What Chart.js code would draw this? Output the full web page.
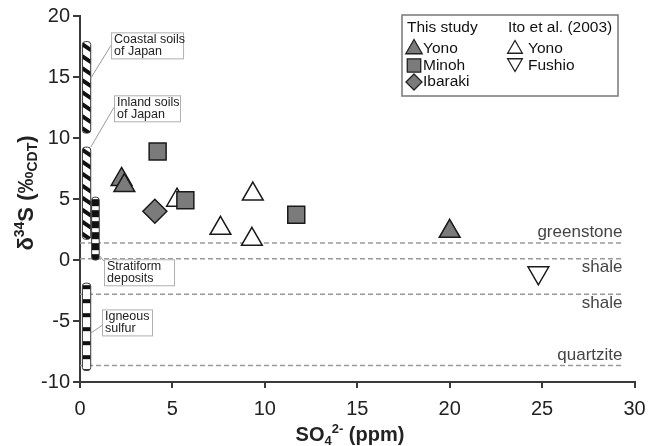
<!DOCTYPE html>
<html>
<head>
<meta charset="utf-8">
<script src="https://cdn.jsdelivr.net/npm/chart.js@4.4.1/dist/chart.umd.min.js"></script>
<style>
  html, body { margin: 0; padding: 0; background: #fff; }
  #wrap { width: 648px; height: 446px; }
</style>
</head>
<body>
<div id="wrap"><canvas id="chart" width="648" height="446"></canvas></div>
<script>
// SO4 (ppm) vs d34S (permil CDT)
const yonoX = [2.25, 2.4, 20.0];
const yonoY = [6.6, 6.1, 2.35];
const minohX = [4.2, 5.7, 11.7];
const minohY = [8.9, 4.9, 3.7];
const ibarakiX = [4.05];
const ibarakiY = [4.0];
const itoYonoX = [5.25, 7.6, 9.3, 9.35];
const itoYonoY = [4.9, 2.6, 1.7, 5.4];
const fushioX = [24.8];
const fushioY = [-1.05];

const xTicks = [0, 5, 10, 15, 20, 25, 30];
const yTicks = [-10, -5, 0, 5, 10, 15, 20];

// bedrock values (dashed lines)
const rockNames = ["greenstone", "shale", "shale", "quartzite"];
const rockValues = [1.4, 0.1, -2.8, -8.65];

// literature ranges of d34S
const rangeNames = [["Coastal soils", "of Japan"], ["Inland soils", "of Japan"], ["Stratiform", "deposits"], ["Igneous", "sulfur"]];
const rangeLow = [10.4, 1.7, 0.0, -9.05];
const rangeHigh = [17.9, 9.25, 5.15, -1.9];

const FONT = "'Liberation Sans', Arial, Helvetica, sans-serif";

// where the range bars and their callouts sit
const rangeStyle = [
  { x0: 0.13, x1: 0.58, fill: "diag", boxX: 1.68, boxY: 18.66, boxW: 72, leadY: 13, barY: 14.9 },
  { x0: 0.13, x1: 0.58, fill: "diag", boxX: 1.84, boxY: 13.5, boxW: 66, leadY: 12, barY: 9.25 },
  { x0: 0.63, x1: 1.04, fill: "band", boxX: 1.3, boxY: 0.06, boxW: 70, leadY: 2, barY: 0.4 },
  { x0: 0.13, x1: 0.58, fill: "thin", boxX: 1.19, boxY: -4.05, boxW: 50, leadY: 16, barY: -6.0 }
];
const rockStyle = [
  { pos: "above" }, { pos: "below" }, { pos: "below" }, { pos: "above" }
];

function pts(xs, ys) {
  return xs.map((x, i) => ({ x: x, y: ys[i] }));
}

function rrect(ctx, x, y, w, h, r) {
  ctx.beginPath();
  ctx.moveTo(x + r, y);
  ctx.arcTo(x + w, y, x + w, y + h, r);
  ctx.arcTo(x + w, y + h, x, y + h, r);
  ctx.arcTo(x, y + h, x, y, r);
  ctx.arcTo(x, y, x + w, y, r);
  ctx.closePath();
}

const backdrop = {
  id: "backdrop",
  beforeDatasetsDraw(chart) {
    const ctx = chart.ctx;
    const sx = chart.scales.x, sy = chart.scales.y;
    ctx.save();
    // dashed reference lines
    ctx.strokeStyle = "#9a9a9a";
    ctx.lineWidth = 1.5;
    ctx.setLineDash([5, 3]);
    rockValues.forEach(v => {
      const y = sy.getPixelForValue(v);
      ctx.beginPath();
      ctx.moveTo(sx.getPixelForValue(0), y);
      ctx.lineTo(sx.getPixelForValue(29.4), y);
      ctx.stroke();
    });
    ctx.setLineDash([]);
    ctx.fillStyle = "#444";
    ctx.font = "17px " + FONT;
    ctx.textAlign = "right";
    ctx.textBaseline = "alphabetic";
    rockNames.forEach((name, i) => {
      const y = sy.getPixelForValue(rockValues[i]);
      const ty = rockStyle[i].pos === "above" ? y - 6 : y + 13.5;
      ctx.fillText(name, sx.getPixelForValue(29.35), ty);
    });

    // range bars
    rangeLow.forEach((lo, i) => {
      const st = rangeStyle[i];
      const x0 = sx.getPixelForValue(st.x0), x1 = sx.getPixelForValue(st.x1);
      const yt = sy.getPixelForValue(rangeHigh[i]), yb = sy.getPixelForValue(lo);
      const w = x1 - x0, h = yb - yt;
      ctx.save();
      rrect(ctx, x0, yt, w, h, 3);
      ctx.fillStyle = "#fff";
      ctx.fill();
      ctx.clip();
      ctx.fillStyle = "#111";
      ctx.strokeStyle = "#111";
      if (st.fill === "diag") {
        ctx.lineWidth = 4;
        for (let k = -10; k < h + 10; k += 12) {
          ctx.beginPath();
          ctx.moveTo(x0 - 1, yt + k);
          ctx.lineTo(x1 + 1, yt + k + 7);
          ctx.stroke();
        }
      } else if (st.fill === "band") {
        for (let k = 2; k < h; k += 11) ctx.fillRect(x0, yt + k, w, 7);
      } else {
        for (let k = 2; k < h; k += 14) ctx.fillRect(x0, yt + k, w, 4);
      }
      ctx.restore();
      rrect(ctx, x0, yt, w, h, 3);
      ctx.strokeStyle = "#333";
      ctx.lineWidth = 1;
      ctx.stroke();
    });
    ctx.restore();
  },
  afterDatasetsDraw(chart) {
    const ctx = chart.ctx;
    const sx = chart.scales.x, sy = chart.scales.y;
    ctx.save();
    ctx.font = "12.5px " + FONT;
    ctx.textAlign = "left";
    ctx.textBaseline = "middle";
    rangeNames.forEach((lines, i) => {
      const st = rangeStyle[i];
      const bx = sx.getPixelForValue(st.boxX), by = sy.getPixelForValue(st.boxY);
      const bh = 13 * lines.length;
      // leader
      ctx.strokeStyle = "#9a9a9a";
      ctx.lineWidth = 1;
      ctx.beginPath();
      ctx.moveTo(bx, by + st.leadY);
      ctx.lineTo(sx.getPixelForValue(st.x1), sy.getPixelForValue(st.barY));
      ctx.stroke();
      ctx.fillStyle = "#fff";
      ctx.fillRect(bx, by, st.boxW, bh);
      ctx.strokeStyle = "#b0b0b0";
      ctx.strokeRect(bx + 0.5, by + 0.5, st.boxW, bh);
      ctx.fillStyle = "#222";
      lines.forEach((t, j) => ctx.fillText(t, bx + 3, by + 7 + j * 12.5));
    });
    ctx.restore();
  },
  afterDraw(chart) {
    const ctx = chart.ctx;
    const H = Chart.helpers;
    ctx.save();
    // legend box
    ctx.strokeStyle = "#777";
    ctx.lineWidth = 1.5;
    ctx.fillStyle = "#fff";
    ctx.fillRect(402, 15, 216, 81);
    ctx.strokeRect(402, 15, 216, 81);
    ctx.fillStyle = "#111";
    ctx.font = "15.5px " + FONT;
    ctx.textBaseline = "middle";
    ctx.textAlign = "left";
    ctx.fillText("This study", 407, 28);
    ctx.fillText("Ito et al. (2003)", 508, 28);
    const items = [
      { t: "Yono", x: 414, y: 49, s: "triangle", r: 9.5, rot: 0, fill: "#7b7b7b", tx: 423 },
      { t: "Minoh", x: 414, y: 65.5, s: "rect", r: 9.5, rot: 0, fill: "#7b7b7b", tx: 423 },
      { t: "Ibaraki", x: 414, y: 82, s: "rectRot", r: 8, rot: 0, fill: "#7b7b7b", tx: 423 },
      { t: "Yono", x: 515, y: 49, s: "triangle", r: 8.5, rot: 0, fill: "#fff", tx: 528 },
      { t: "Fushio", x: 515, y: 63, s: "triangle", r: 8.5, rot: 180, fill: "#fff", tx: 528 }
    ];
    items.forEach(it => {
      ctx.fillStyle = it.fill;
      ctx.strokeStyle = "#222";
      ctx.lineWidth = 1.3;
      H.drawPoint(ctx, { pointStyle: it.s, radius: it.r, rotation: it.rot, borderWidth: 1.3 }, it.x, it.y);
      ctx.fillStyle = "#111";
      ctx.fillText(it.t, it.tx, it.s === "triangle" && it.rot === 180 ? 65.5 : it.y);
    });

    // axis titles with sub/superscripts
    function runs(parts, x, y, center) {
      let total = 0;
      parts.forEach(p => { ctx.font = "bold " + p.size + "px " + FONT; p.w = ctx.measureText(p.t).width; total += p.w; });
      let cx = center ? x - total / 2 : x;
      parts.forEach(p => {
        ctx.font = "bold " + p.size + "px " + FONT;
        ctx.fillText(p.t, cx, y + p.dy);
        cx += p.w;
      });
    }
    ctx.fillStyle = "#222";
    ctx.textBaseline = "alphabetic";
    ctx.textAlign = "left";
    runs([
      { t: "SO", size: 20, dy: 0 },
      { t: "4", size: 13, dy: 4 },
      { t: "2-", size: 13, dy: -8 },
      { t: " (ppm)", size: 20, dy: 0 }
    ], 350, 441, true);
    ctx.save();
    ctx.translate(33, 193);
    ctx.rotate(-Math.PI / 2);
    runs([
      { t: "δ", size: 22, dy: 0 },
      { t: "34", size: 14, dy: -9 },
      { t: "S (‰", size: 22, dy: 0 },
      { t: "CDT", size: 14, dy: 4 },
      { t: ")", size: 22, dy: 0 }
    ], 0, 0, true);
    ctx.restore();
    ctx.restore();
  }
};

const axisColor = "#3a3a3a";

new Chart(document.getElementById("chart"), {
  type: "scatter",
  data: {
    datasets: [
      { label: "Yono", data: pts(yonoX, yonoY), pointStyle: "triangle", pointRadius: 12,
        backgroundColor: "#7b7b7b", borderColor: "#1a1a1a", borderWidth: 1.5 },
      { label: "Minoh", data: pts(minohX, minohY), pointStyle: "rect", pointRadius: 12,
        backgroundColor: "#7b7b7b", borderColor: "#1a1a1a", borderWidth: 1.5 },
      { label: "Ibaraki", data: pts(ibarakiX, ibarakiY), pointStyle: "rectRot", pointRadius: 12,
        backgroundColor: "#7b7b7b", borderColor: "#1a1a1a", borderWidth: 1.5 },
      { label: "Yono (Ito et al. 2003)", data: pts(itoYonoX, itoYonoY), pointStyle: "triangle", pointRadius: 12,
        backgroundColor: "#fff", borderColor: "#1a1a1a", borderWidth: 1.5 },
      { label: "Fushio (Ito et al. 2003)", data: pts(fushioX, fushioY), pointStyle: "triangle", pointRadius: 12,
        rotation: 180, backgroundColor: "#fff", borderColor: "#1a1a1a", borderWidth: 1.5 }
    ]
  },
  options: {
    responsive: false,
    animation: false,
    layout: { padding: { top: 16, right: 13, left: 0, bottom: 0 } },
    plugins: { legend: { display: false }, tooltip: { enabled: false } },
    scales: {
      x: {
        type: "linear", min: 0, max: 30,
        afterBuildTicks: s => { s.ticks = xTicks.map(v => ({ value: v })); },
        afterFit: s => { s.height = 64; s.paddingLeft = 0; s.paddingRight = 0; },
        ticks: { font: { family: FONT, size: 20 }, color: "#222", padding: 9, maxRotation: 0 },
        grid: { display: true, drawOnChartArea: false, drawTicks: true, tickLength: 6, color: axisColor, lineWidth: 2 },
        border: { display: true, color: axisColor, width: 2 }
      },
      y: {
        type: "linear", min: -10, max: 20,
        afterBuildTicks: s => { s.ticks = yTicks.map(v => ({ value: v })); },
        afterFit: s => { s.width = 80; s.paddingTop = 0; s.paddingBottom = 0; },
        ticks: { font: { family: FONT, size: 20 }, color: "#222", padding: 3 },
        grid: { display: true, drawOnChartArea: false, drawTicks: true, tickLength: 7, color: axisColor, lineWidth: 2 },
        border: { display: true, color: axisColor, width: 2 }
      }
    }
  },
  plugins: [backdrop]
});
</script>
</body>
</html>
